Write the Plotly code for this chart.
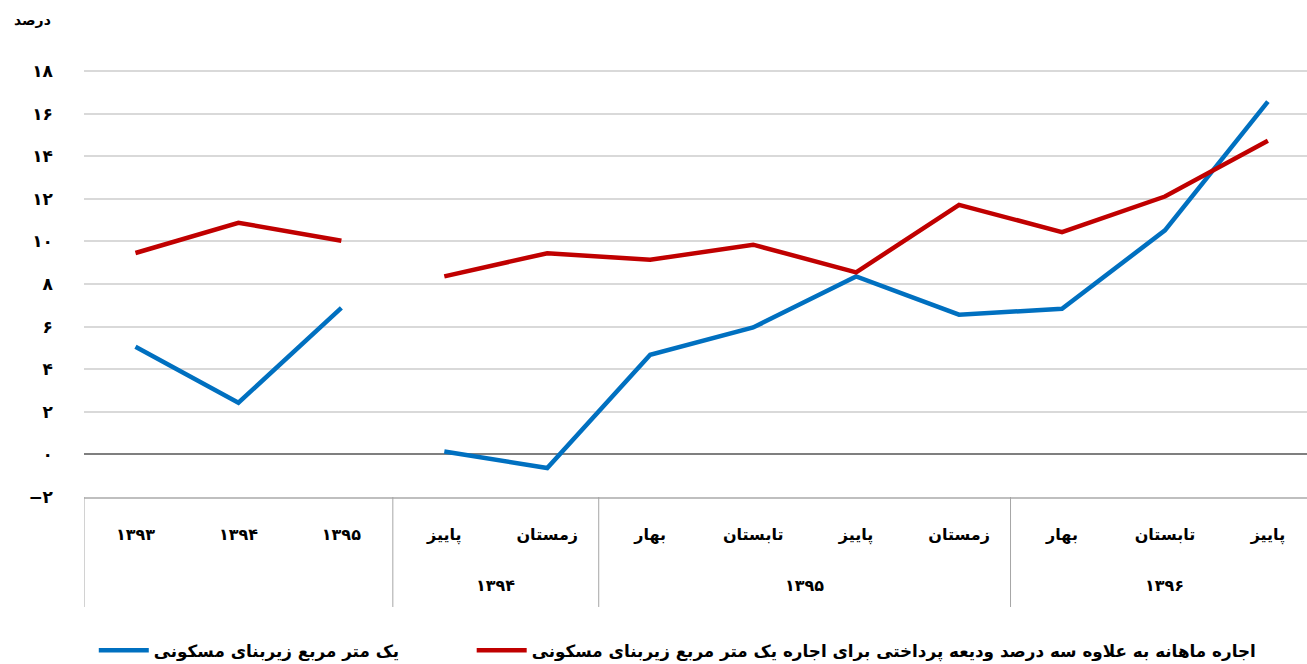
import plotly.graph_objects as go

# annual part (left block)
years = ["۱۳۹۳", "۱۳۹۴", "۱۳۹۵"]
blue_annual = [5.06, 2.43, 6.88]
red_annual = [9.46, 10.88, 10.03]

# quarterly part
q_years = ["۱۳۹۴", "۱۳۹۴", "۱۳۹۵", "۱۳۹۵", "۱۳۹۵", "۱۳۹۵", "۱۳۹۶", "۱۳۹۶", "۱۳۹۶"]
q_seasons = ["پاییز", "زمستان", "بهار", "تابستان", "پاییز", "زمستان", "بهار", "تابستان", "پاییز"]
blue_quarter = [0.14, -0.64, 4.68, 5.96, 8.36, 6.56, 6.84, 10.52, 16.57]
red_quarter = [8.36, 9.45, 9.14, 9.85, 8.55, 11.72, 10.44, 12.11, 14.73]

blue_name = "یک متر مربع زیربنای مسکونی"
red_name = "اجاره ماهانه به علاوه سه درصد ودیعه پرداختی برای اجاره یک متر مربع زیربنای مسکونی"

y_ticks = [-2, 0, 2, 4, 6, 8, 10, 12, 14, 16, 18]
y_ticktext = ["−۲", "۰", "۲", "۴", "۶", "۸", "۱۰", "۱۲", "۱۴", "۱۶", "۱۸"]

BLUE = "#0070C0"
RED = "#C00000"
FONT = "DejaVu Sans"
DIV = "#a6a6a6"

# positions on the category axis: annual points first, quarters after
x_annual = list(range(len(years)))
x_quarter = list(range(len(years), len(years) + len(q_seasons)))
tick_pos = x_annual + x_quarter
tick_lab = years + q_seasons

fig = go.Figure()
fig.add_trace(go.Scatter(x=x_annual, y=blue_annual, mode="lines", name=blue_name, legendgroup="b",
                         legend="legend", line=dict(color=BLUE, width=4.5)))
fig.add_trace(go.Scatter(x=x_quarter, y=blue_quarter, mode="lines", name=blue_name, legendgroup="b",
                         showlegend=False, line=dict(color=BLUE, width=4.5)))
fig.add_trace(go.Scatter(x=x_annual, y=red_annual, mode="lines", name=red_name, legendgroup="r",
                         legend="legend2", line=dict(color=RED, width=4.5)))
fig.add_trace(go.Scatter(x=x_quarter, y=red_quarter, mode="lines", name=red_name, legendgroup="r",
                         showlegend=False, line=dict(color=RED, width=4.5)))

# group labels and dividers for the year blocks of the quarterly part
groups = []
for i, yr in enumerate(q_years):
    if groups and groups[-1][0] == yr:
        groups[-1][2] = x_quarter[i]
    else:
        groups.append([yr, x_quarter[i], x_quarter[i]])

bounds = [x_annual[0] - 0.5] + [g[1] - 0.5 for g in groups]
for b in bounds:
    fig.add_shape(type="line", xref="x", yref="paper", x0=b, x1=b, y0=0, y1=-0.257,
                  line=dict(color=DIV, width=1))
for yr, a, b in groups:
    fig.add_annotation(text=yr, xref="x", yref="paper", x=(a + b) / 2, y=-0.206, yanchor="middle",
                       showarrow=False, font=dict(size=16, weight="bold"))

leg = dict(orientation="h", xanchor="left", y=-0.358, yanchor="middle",
           font=dict(size=16.8, weight="bold"), itemwidth=50)
fig.update_layout(
    width=1307, height=664,
    margin=dict(l=84, r=0, t=69, b=167, autoexpand=False),
    plot_bgcolor="white", paper_bgcolor="white",
    font=dict(family=FONT, size=16, color="black", weight="bold"),
    showlegend=True,
    legend=dict(leg, x=0.008),
    legend2=dict(leg, x=0.317),
)
fig.update_xaxes(range=[-0.5, 11.38], tickvals=tick_pos, ticktext=tick_lab, showgrid=False,
                 showline=True, linecolor="#bfbfbf", linewidth=1.5, ticks="", zeroline=False,
                 automargin=False, ticklabelstandoff=22, tickfont=dict(size=16, weight="bold"))
fig.update_yaxes(range=[-2, 18.1], tickvals=y_ticks, ticktext=y_ticktext, showgrid=True, gridcolor="#d9d9d9",
                 gridwidth=1.5, zeroline=True, zerolinecolor="#7f7f7f", zerolinewidth=1.5,
                 showline=False, ticks="", automargin=False, ticklabelstandoff=30,
                 tickfont=dict(size=17, weight="bold"))

fig.add_annotation(text="درصد", xref="paper", yref="paper", x=-0.042, y=1.115, xanchor="center",
                   yanchor="middle", showarrow=False, font=dict(size=14, weight="bold"))

# the page body has a default margin; drop it so the figure fills the window
fig.write_html("out.html", config={"displayModeBar": False},
               post_script="document.body.style.margin='0';")
